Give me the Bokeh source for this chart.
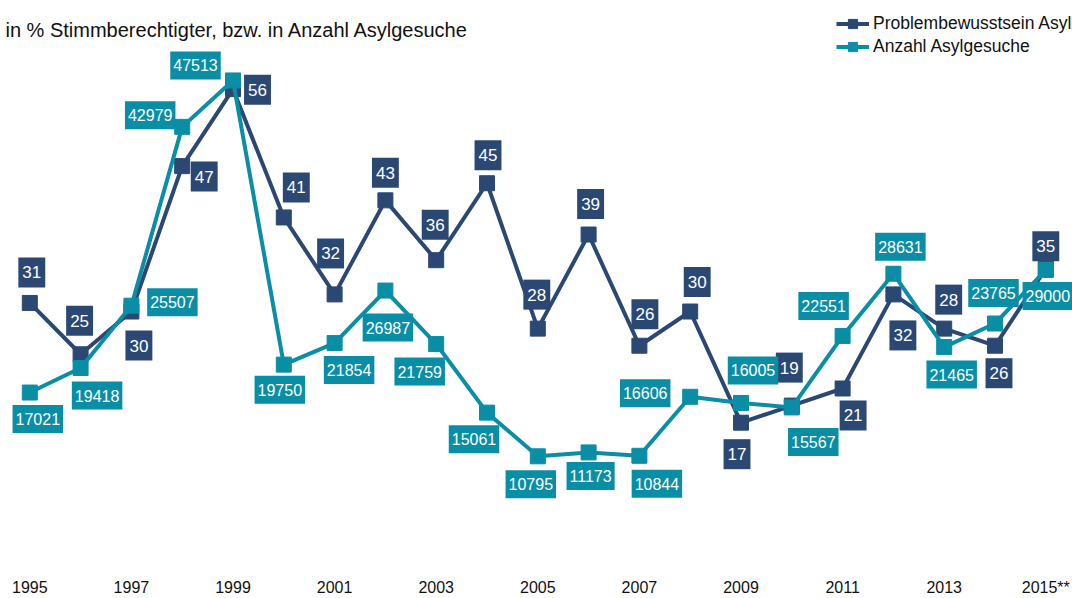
from bokeh.plotting import figure
from bokeh.models import Range1d, FixedTicker, Label, Legend, LegendItem
from bokeh.embed import file_html
from bokeh.resources import INLINE
from bokeh.core.properties import value

# ---- data ----
years = list(range(1995, 2016))
problem = [31, 25, 30, 47, 56, 41, 32, 43, 36, 45, 28, 39, 26, 30, 17, 19, 21, 32, 28, 26, 35]
asyl = [17021, 19418, 25507, 42979, 47513, 19750, 21854, 26987, 21759, 15061, 10795,
        11173, 10844, 16606, 16005, 15567, 22551, 28631, 21465, 23765, 29000]
tick_years = [1995, 1997, 1999, 2001, 2003, 2005, 2007, 2009, 2011, 2013, 2015]
tick_labels = ["1995", "1997", "1999", "2001", "2003", "2005", "2007", "2009", "2011", "2013", "2015**"]
series_names = ["Problembewusstsein Asyl", "Anzahl Asylgesuche"]
subtitle = "in % Stimmberechtigter, bzw. in Anzahl Asylgesuche"

# ---- label placement (screen px offsets, layout only) ----
prob_dx = [2, -1, 7.5, 22, 24.5, 12.5, -4, 0, -1, 1, -1, 2, 5.5, 7, -4, -2.5, 10.5, 9.5, 4.5, 4, 0]
prob_dy = [-30.5, -33.5, 34, 10.5, 0.5, -30, -41, -27.5, -35.5, -28, -34, -30.5, -31.5, -29.5,
           31.5, -38, 27, 41, -29, 27.5, -22.5]
asyl_dx = [8, 16.5, 41, -32, -37.5, -4, 14.5, 2.5, -16.5, -13, -7, 2, 17.5, -45, 12, 21.5, -19, 7, 7.5, -1.5, 2]
asyl_dy = [26.5, 27.5, -3.5, -11.5, -15, 25, 27, 37, 27.5, 26.5, 28, 23.5, 28, -3.5, -32.5, 34.5,
           -30, -27, 27.5, -30.5, 26]

DARK = "#2B4873"
TEAL = "#0A8EA5"
FONT = "Liberation Sans"

p = figure(width=1072, height=598, output_backend="svg", toolbar_location=None,
           x_range=Range1d(1994.4232, 2015.5256), y_range=Range1d(-0.047, 66.365),
           y_axis_location=None, min_border_left=0, min_border_right=0,
           min_border_top=0, min_border_bottom=22)
p.extra_y_ranges = {"asyl": Range1d(-167, 55323)}
p.grid.visible = False
p.outline_line_color = None
p.background_fill_color = "white"
p.border_fill_color = "white"

ax = p.xaxis[0]
ax.ticker = FixedTicker(ticks=tick_years)
ax.major_label_overrides = {y: lab for y, lab in zip(tick_years, tick_labels)}
ax.axis_line_color = None
ax.major_tick_line_color = None
ax.minor_tick_line_color = None
ax.major_label_text_font = FONT
ax.major_label_text_font_size = "16px"
ax.major_label_text_color = "#111111"
ax.major_label_standoff = 4

r1 = p.line(years, problem, line_width=4, color=DARK)
s1 = p.scatter(years, problem, marker="square", size=15, color=DARK)
r2 = p.line(years, asyl, line_width=4, color=TEAL, y_range_name="asyl")
s2 = p.scatter(years, asyl, marker="square", size=15, color=TEAL, y_range_name="asyl")

p.text(x=years, y=problem, text=[str(v) for v in problem], x_offset=prob_dx, y_offset=prob_dy,
       text_align="center", text_baseline="middle", text_color="white",
       text_font=value(FONT), text_font_size="17px",
       background_fill_color=DARK, padding=dict(left=4, right=4, top=9, bottom=9))
p.text(x=years, y=asyl, text=[str(v) for v in asyl], x_offset=asyl_dx, y_offset=asyl_dy,
       text_align="center", text_baseline="middle", text_color="white",
       text_font=value(FONT), text_font_size="16px", y_range_name="asyl",
       background_fill_color=TEAL, padding=dict(left=3, right=3, top=8, bottom=8))

legend = Legend(items=[LegendItem(label=series_names[0], renderers=[r1, s1]),
                       LegendItem(label=series_names[1], renderers=[r2, s2])],
                location=(836, 510), margin=0, padding=0, spacing=0,
                glyph_width=33, glyph_height=23, label_standoff=4, label_height=23,
                label_text_font=FONT, label_text_font_size="17.5px",
                label_text_color="#111111",
                border_line_color=None, background_fill_alpha=0)
p.add_layout(legend)

p.add_layout(Label(x=5, y=539, x_units="screen", y_units="screen", text=subtitle,
                   text_font=FONT, text_font_size="20px", text_baseline="alphabetic",
                   text_color="#111111"))

open("out.html", "w").write(file_html(p, INLINE))
